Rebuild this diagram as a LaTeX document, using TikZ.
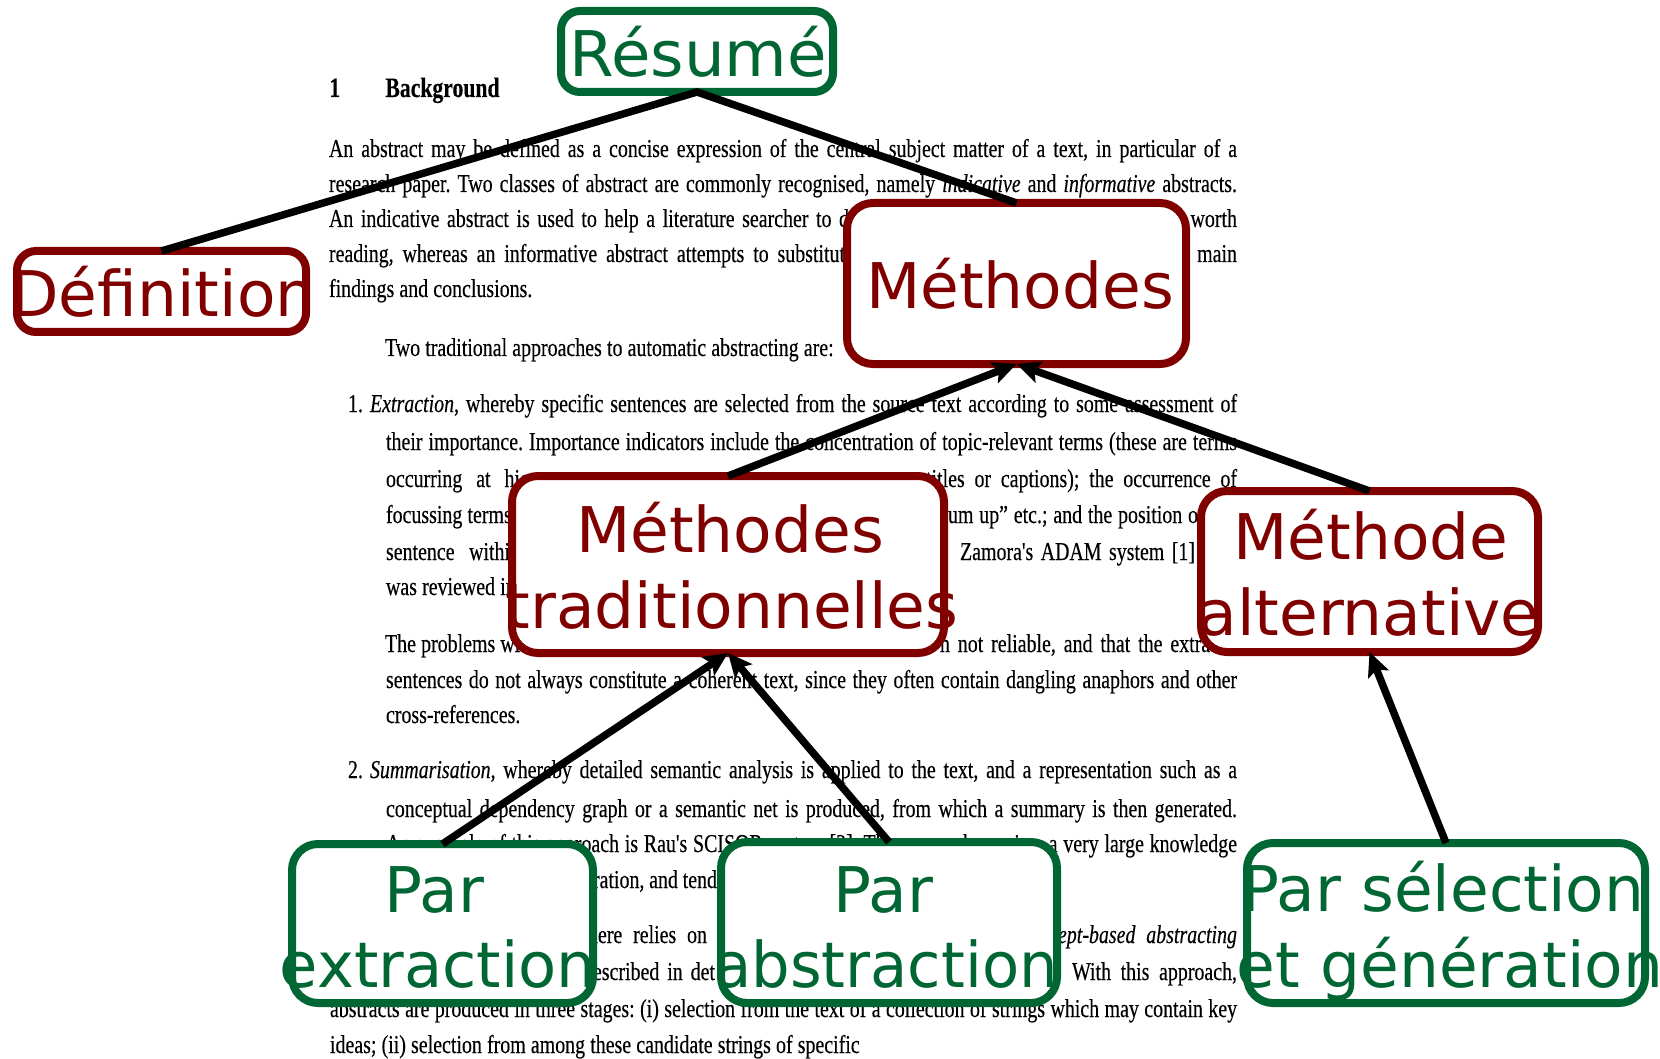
\documentclass[tikz,border=0pt]{standalone}
\usepackage{fontspec}
\usepackage{graphicx}
\newfontfamily\nodefont{DejaVu Sans}
\newfontfamily\bgfont{Liberation Serif}[FakeStretch=0.775,FakeBold=0.3]
\usetikzlibrary{arrows.meta}
\definecolor{mgreen}{RGB}{0,102,51}
\definecolor{mred}{RGB}{128,0,0}
\newcommand{\jl}[2]{\makebox[#1][s]{#2}}
\begin{document}
\begin{tikzpicture}[x=0.5pt,y=-0.5pt,
  bg/.style={font={\bgfont\fontsize{12.85}{15}\selectfont\frenchspacing\spaceskip=0.2em plus 1.5em minus 0.08em\relax},
    inner sep=0pt, outer sep=0pt, anchor=base west, text=black},
  bgr/.style={bg, anchor=base east},
  head/.style={font={\bgfont\bfseries\fontsize{14}{16}\selectfont}, inner sep=0pt, anchor=base west},
  boxbase/.style={line width=4pt, fill=white, inner sep=0pt, outer sep=0pt, rounded corners=13pt},
  gbox/.style={boxbase, draw=mgreen},
  rbox/.style={boxbase, draw=mred},
  lab/.style={font={\nodefont\fontsize{31.5}{38}\selectfont}, inner sep=0pt, anchor=base},
  glab/.style={lab, text=mgreen},
  rlab/.style={lab, text=mred},
  conn/.style={line width=3.75pt, draw=black, line join=miter},
  arr/.style={conn, -{Stealth[length=12pt,width=11pt,inset=2.5pt]}}
]
\fill[white] (0,0) rectangle (1660,1059);
\useasboundingbox (0,0) rectangle (1660,1059);

% ---- background page text ----
\node[head] (h1) at (329,97) {1};
\node[head] (h2) at (385,97) {Background};

\node[bg] (a1) at (329,157) {\jl{454pt}{An abstract may be defined as a concise expression of the central subject matter of a text, in particular of a}};
\node[bg] (a2) at (329,192) {\jl{454pt}{research paper. Two classes of abstract are commonly recognised, namely \textit{indicative} and \textit{informative} abstracts.}};
\node[bg] (a3) at (329,227) {\jl{260pt}{An indicative abstract is used to help a literature searcher to d}};
\node[bgr] (a3r) at (1237,227) {worth};
\node[bg] (a4) at (329,262) {\jl{258pt}{reading, whereas an informative abstract attempts to substitut}};
\node[bgr] (a4r) at (1237,262) {main};
\node[bg] (a5) at (329,297) {findings and conclusions.};
\node[bg] (a6) at (385,356) {Two traditional approaches to automatic abstracting are:};

\node[bg] (b1n) at (348,412) {1.};
\node[bg] (b1) at (370,412) {\jl{433.5pt}{\textit{Extraction}, whereby specific sentences are selected from the source text according to some assessment of}};
\node[bg] (b2) at (386,450) {\jl{425.5pt}{their importance. Importance indicators include the concentration of topic-relevant terms (these are terms}};
\node[bg] (b3l) at (386,487) {\jl{72pt}{occurring at hig}};
\node[bgr] (b3r) at (1237,487) {\jl{155.5pt}{titles or captions); the occurrence of}};
\node[bg] (b4l) at (386,523) {focussing terms};
\node[bg] (b4r) at (948,523) {\jl{125pt}{um up” etc.; and the position o}};
\node[bg] (b5l) at (386,560) {\jl{67pt}{sentence within}};
\node[bg] (b5r) at (960,560) {\jl{117.5pt}{Zamora's ADAM system [1]}};
\node[bg] (b6l) at (386,595) {was reviewed in};
\node[bg] (c1l) at (385,652) {The problems with};
\node[bg] (c1r) at (940,652) {\jl{139.5pt}{n not reliable, and that the extrac}};
\node[bg] (c2) at (386,688) {\jl{425.5pt}{sentences do not always constitute a coherent text, since they often contain dangling anaphors and other}};
\node[bg] (c3) at (386,723) {cross-references.};

\node[bg] (d1n) at (348,778) {2.};
\node[bg] (d1) at (370,778) {\jl{433.5pt}{\textit{Summarisation}, whereby detailed semantic analysis is applied to the text, and a representation such as a}};
\node[bg] (d2) at (386,817) {\jl{425.5pt}{conceptual dependency graph or a semantic net is produced, from which a summary is then generated.}};
\node[bg] (d3) at (386,852) {\jl{425.5pt}{An example of this approach is Rau's SCISOR system [3]. The approach requires a very large knowledge}};
\node[bg] (d4) at (593,888) {\jl{62pt}{ration, and tend}};
\node[bgr] (e1l) at (707,943) {\jl{59.5pt}{here relies on}};
\node[bgr] (e1r) at (1237,943) {\jl{89.5pt}{\textit{ept-based abstracting}}};
\node[bg] (e2l) at (593,980) {\jl{61pt}{escribed in det}};
\node[bgr] (e2r) at (1237,980) {\jl{82.5pt}{With this approach,}};
\node[bg] (e3) at (330,1017) {\jl{453.5pt}{abstracts are produced in three stages: (i) selection from the text of a collection of strings which may contain key}};
\node[bg] (e4) at (330,1053) {ideas; (ii) selection from among these candidate strings of specific};

% ---- boxes ----
\node[gbox, rounded corners=9.5pt, minimum width=136pt, minimum height=40.5pt] (resume) at (697,51.5) {};
\node[rbox, rounded corners=9.5pt, minimum width=144.5pt, minimum height=40.5pt] (definition) at (161.5,291.5) {};
\node[rbox, minimum width=169.5pt, minimum height=80.5pt] (methodes) at (1016.5,283.5) {};
\node[rbox, minimum width=216pt, minimum height=88.5pt] (trad) at (728,564.5) {};
\node[rbox, minimum width=168.5pt, minimum height=80.5pt] (alt) at (1369.5,571.5) {};
\node[gbox, minimum width=150.5pt, minimum height=79.5pt] (pext) at (442.5,923.5) {};
\node[gbox, minimum width=168pt, minimum height=80.5pt] (pabs) at (889,922.5) {};
\node[gbox, minimum width=199pt, minimum height=80pt] (psel) at (1446,923) {};

% ---- box texts ----
\node[glab] (resume-t) at (698,77) {\scalebox{1.02}[1]{Résumé}};
\node[rlab] (definition-t) at (163,317) {Définition};
\node[rlab] (methodes-t) at (1020,308) {Méthodes};
\node[rlab] (trad-t1) at (730,552) {Méthodes};
\node[rlab] (trad-t2) at (732,628) {traditionnelles};
\node[rlab] (alt-t1) at (1371,559) {Méthode};
\node[rlab] (alt-t2) at (1369,635) {alternative};
\node[glab] (pext-t1) at (434,912) {Par};
\node[glab] (pext-t2) at (438,987) {\scalebox{0.99}[1]{extraction}};
\node[glab] (pabs-t1) at (883,912) {Par};
\node[glab] (pabs-t2) at (886,987) {\scalebox{0.965}[1]{abstraction}};
\node[glab] (psel-t1) at (1443,911) {Par sélection};
\node[glab] (psel-t2) at (1450,987) {et génération};

% ---- connectors ----
\draw[conn] (definition.north) -- (resume.south) -- (methodes.north);
\draw[arr] (trad.north) -- (methodes.south);
\draw[arr] (alt.north) -- (methodes.south);
\draw[arr] (pext.north) -- (trad.south);
\draw[arr] (pabs.north) -- (trad.south);
\draw[arr] (psel.north) -- (alt.south);
\end{tikzpicture}
\end{document}
